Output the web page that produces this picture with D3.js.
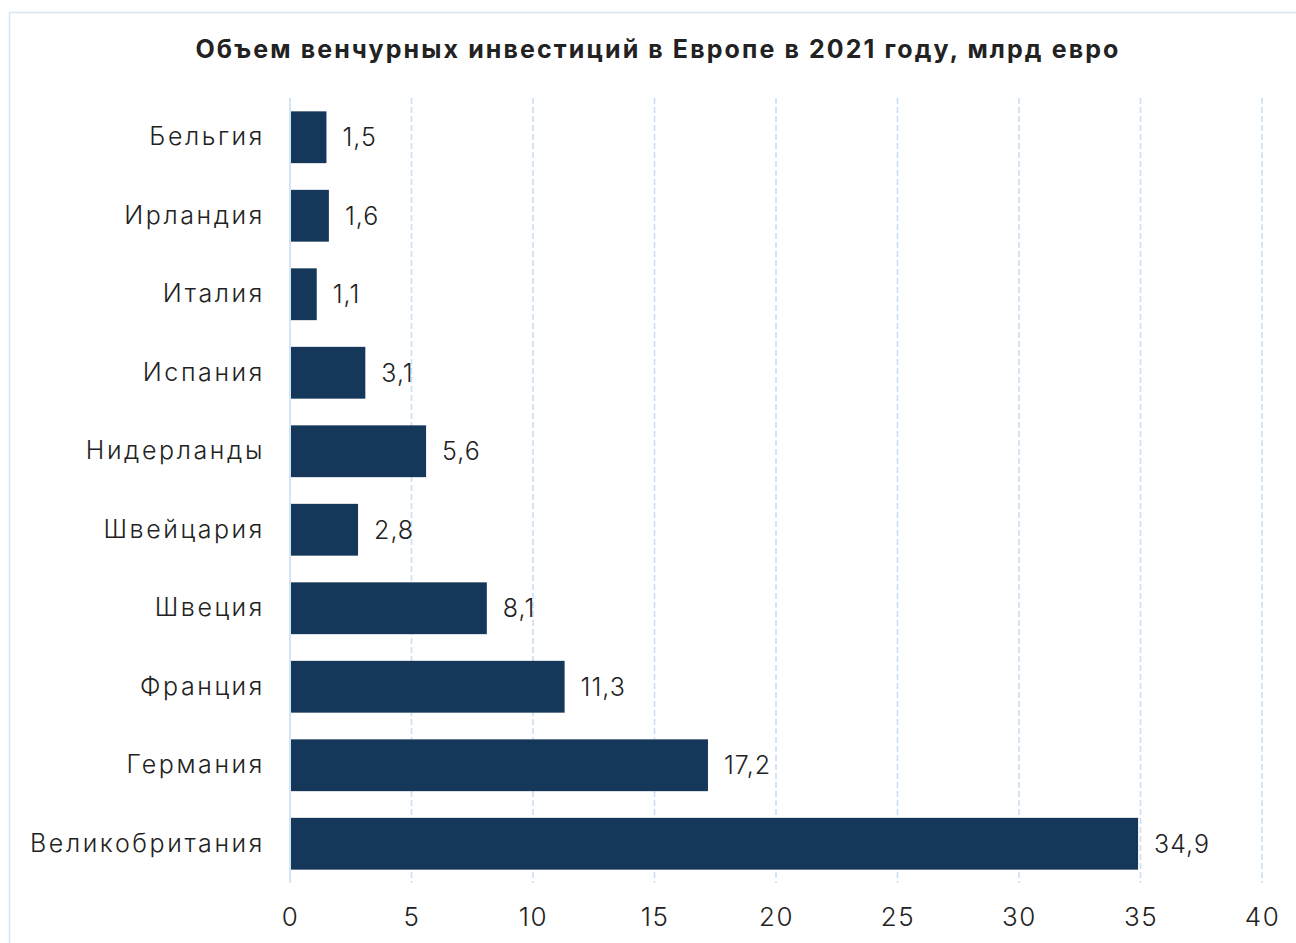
<!DOCTYPE html>
<html lang="ru">
<head>
<meta charset="UTF-8">
<title>Объем венчурных инвестиций в Европе в 2021 году</title>
<script src="https://d3js.org/d3.v7.min.js"></script>
<style>
  body { margin: 0; background: #fff; }
  text { font-family: "Inter", "Noto Sans", sans-serif; fill: #222; }
</style>
</head>
<body>
<script>
    // chart data
    const countries = ['Бельгия', 'Ирландия', 'Италия', 'Испания', 'Нидерланды',
                       'Швейцария', 'Швеция', 'Франция', 'Германия', 'Великобритания'];
    const values = [1.5, 1.6, 1.1, 3.1, 5.6, 2.8, 8.1, 11.3, 17.2, 34.9];
    const xTicks = [0, 5, 10, 15, 20, 25, 30, 35, 40];
    const title = 'Объем венчурных инвестиций в Европе в 2021 году, млрд евро';

    const data = countries.map((c, i) => ({ name: c, value: values[i] }));

    const svg = d3.select('body').append('svg')
        .attr('width', 1296)
        .attr('height', 943);

    // outer frame
    svg.append('rect')
        .attr('x', 9.5).attr('y', 12.5)
        .attr('width', 1300).attr('height', 960)
        .attr('fill', 'none')
        .attr('stroke', '#d6e6f5')
        .attr('stroke-width', 1.5);

    const x = d3.scaleLinear().domain([0, 40]).range([290, 1262]);
    const y = d3.scaleBand().domain(countries).range([98, 883])
        .paddingInner(0.34).paddingOuter(0.17);

    // gridlines
    svg.append('g')
        .selectAll('line')
        .data(xTicks.filter(d => d > 0))
        .enter()
        .append('line')
        .attr('x1', d => x(d)).attr('x2', d => x(d))
        .attr('y1', 98).attr('y2', 883)
        .attr('stroke', '#c9def2')
        .attr('stroke-width', 1.6)
        .attr('stroke-dasharray', '6,3');

    svg.append('line')
        .attr('x1', x(0)).attr('x2', x(0))
        .attr('y1', 98).attr('y2', 883)
        .attr('stroke', '#c9def2')
        .attr('stroke-width', 1.6);

    // bars
    svg.append('g')
        .selectAll('rect')
        .data(data)
        .enter()
        .append('rect')
        .attr('x', x(0) + 1)
        .attr('y', d => y(d.name))
        .attr('width', d => x(d.value) - x(0) - 1)
        .attr('height', y.bandwidth())
        .attr('fill', '#153759');

    // value labels
    svg.append('g')
        .selectAll('text')
        .data(data)
        .enter()
        .append('text')
        .attr('x', d => x(d.value) + 16)
        .attr('y', d => y(d.name) + y.bandwidth() / 2)
        .attr('dy', '0.36em')
        .style('font-size', '25px')
        .style('font-weight', 300)
        .style('letter-spacing', '1px')
        .text(d => String(d.value).replace('.', ','));

    // category axis
    const yAxis = svg.append('g')
        .attr('transform', 'translate(290,0)')
        .call(d3.axisLeft(y).tickSize(0).tickPadding(25));
    yAxis.select('.domain').remove();
    yAxis.selectAll('text')
        .style('font-size', '25px')
        .style('font-weight', 300)
        .style('letter-spacing', '2.6px')
        .attr('fill', '#222');

    // value axis
    const xAxis = svg.append('g')
        .attr('transform', 'translate(0,883)')
        .call(d3.axisBottom(x).tickValues(xTicks).tickSize(0).tickPadding(25).tickFormat(d => d));
    xAxis.select('.domain').remove();
    xAxis.selectAll('text')
        .style('font-size', '26px')
        .style('font-weight', 300)
        .style('letter-spacing', '1.5px')
        .attr('fill', '#222');

    // title
    svg.append('text')
        .attr('x', 658)
        .attr('y', 58)
        .attr('text-anchor', 'middle')
        .style('font-size', '25px')
        .style('font-weight', 'bold')
        .style('letter-spacing', '2.1px')
        .attr('fill', '#1a1a1a')
        .text(title);
</script>
</body>
</html>
